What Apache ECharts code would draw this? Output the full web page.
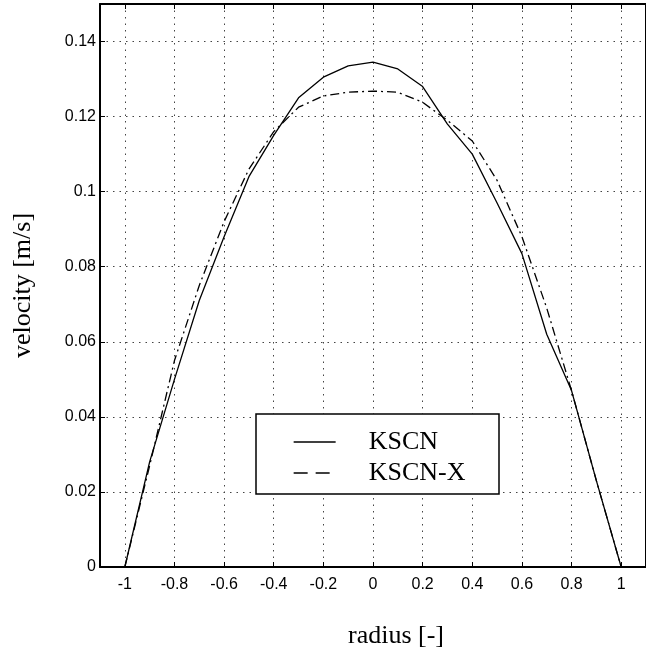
<!DOCTYPE html>
<html>
<head>
<meta charset="utf-8">
<script src="https://cdn.jsdelivr.net/npm/echarts@6/dist/echarts.min.js"></script>
<style>
  html, body { margin: 0; padding: 0; background: #fff; }
  #chart { width: 646px; height: 654px; }
</style>
</head>
<body>
<div id="chart"></div>
<script>
// data
let radius = [-1, -0.9, -0.8, -0.7, -0.6, -0.5, -0.4, -0.3, -0.2, -0.1, 0,
  0.1, 0.2, 0.3, 0.4, 0.5, 0.6, 0.7, 0.8, 0.9, 1];
let kscn = [0, 0.028, 0.050, 0.071, 0.088, 0.104, 0.115, 0.125, 0.1305, 0.1335, 0.1345,
  0.1327, 0.128, 0.118, 0.110, 0.097, 0.0835, 0.062, 0.047, 0.023, 0];
let kscnX = [0, 0.027, 0.055, 0.075, 0.092, 0.106, 0.116, 0.1225, 0.1255, 0.1265, 0.1268,
  0.1265, 0.1238, 0.119, 0.1135, 0.103, 0.088, 0.069, 0.047, 0.023, 0];
let xTicks = [-1, -0.8, -0.6, -0.4, -0.2, 0, 0.2, 0.4, 0.6, 0.8, 1];
let yTicks = [0, 0.02, 0.04, 0.06, 0.08, 0.1, 0.12, 0.14];

(function () {
  let myChart = echarts.init(document.getElementById('chart'));

  let serif = 'Liberation Serif';
  let sans = 'Liberation Sans';
  let grid = { type: [1.5, 5], color: '#444', width: 1 };

  function pairs(ys) {
    return radius.map((r, i) => [r, ys[i]]);
  }

  let option = {
    animation: false,
    backgroundColor: '#fff',
    grid: { left: 100, top: 4, right: -8, bottom: 85 },
    xAxis: [{
      type: 'value',
      min: -1.1,
      max: 1.1,
      name: 'radius [-]',
      nameLocation: 'middle',
      nameGap: 56,
      nameTextStyle: { fontFamily: serif, fontSize: 26, color: '#000', padding: [0, 0, 0, 46] },
      axisLine: { onZero: false, lineStyle: { color: '#000', width: 2 } },
      axisTick: { inside: true, length: 5, customValues: xTicks, lineStyle: { color: '#000' } },
      axisLabel: {
        customValues: xTicks, margin: 10,
        fontFamily: sans, fontSize: 16, color: '#000',
        formatter: v => String(Math.round(v * 10) / 10)
      },
      splitLine: { show: true, lineStyle: grid }
    }, {
      type: 'value',
      position: 'top',
      min: -1.1,
      max: 1.1,
      axisLine: { onZero: false, lineStyle: { color: '#000', width: 2 } },
      axisTick: { inside: true, length: 5, customValues: xTicks, lineStyle: { color: '#000' } },
      axisLabel: { show: false },
      splitLine: { show: false }
    }],
    yAxis: [{
      type: 'value',
      min: 0,
      max: 0.15,
      name: 'velocity [m/s]',
      nameLocation: 'middle',
      nameGap: 64,
      nameTextStyle: { fontFamily: serif, fontSize: 26, color: '#000' },
      axisLine: { show: true, onZero: false, lineStyle: { color: '#000', width: 2 } },
      axisTick: { show: true, inside: true, length: 5, customValues: yTicks, lineStyle: { color: '#000' } },
      axisLabel: {
        customValues: yTicks, margin: 4,
        fontFamily: sans, fontSize: 16, color: '#000',
        formatter: v => String(Math.round(v * 100) / 100)
      },
      splitLine: { show: true, lineStyle: grid }
    }, {
      type: 'value',
      position: 'right',
      min: 0,
      max: 0.15,
      axisLine: { show: true, onZero: false, lineStyle: { color: '#000', width: 2 } },
      axisTick: { show: false },
      axisLabel: { show: false },
      splitLine: { show: false }
    }],
    legend: {
      orient: 'vertical',
      left: 293,
      top: 429,
      padding: 0,
      itemGap: 5,
      itemWidth: 42,
      itemHeight: 14,
      z: 5,
      itemStyle: { opacity: 0 },
      textStyle: { fontFamily: serif, fontSize: 26, lineHeight: 26, color: '#000', padding: [0, 0, 0, 28] },
      data: [
        { name: 'KSCN', lineStyle: { type: 'solid', width: 1.3 } },
        { name: 'KSCN-X', lineStyle: { type: [14, 8], width: 1.3 } }
      ]
    },
    graphic: [{
      type: 'rect',
      z: 3,
      shape: { x: 256, y: 414, width: 243, height: 80 },
      style: { fill: '#fff', stroke: '#000', lineWidth: 1.5 }
    }],
    series: [{
      name: 'KSCN',
      type: 'line',
      showSymbol: false,
      symbol: 'none',
      color: '#000',
      lineStyle: { color: '#000', width: 1.3 },
      data: pairs(kscn)
    }, {
      name: 'KSCN-X',
      type: 'line',
      showSymbol: false,
      symbol: 'none',
      color: '#000',
      lineStyle: { color: '#000', width: 1.3, type: [9, 4, 2, 4] },
      data: pairs(kscnX)
    }]
  };

  myChart.setOption(option);
  window.addEventListener('resize', function () {
    myChart.resize();
  });
})();
</script>
</body>
</html>
